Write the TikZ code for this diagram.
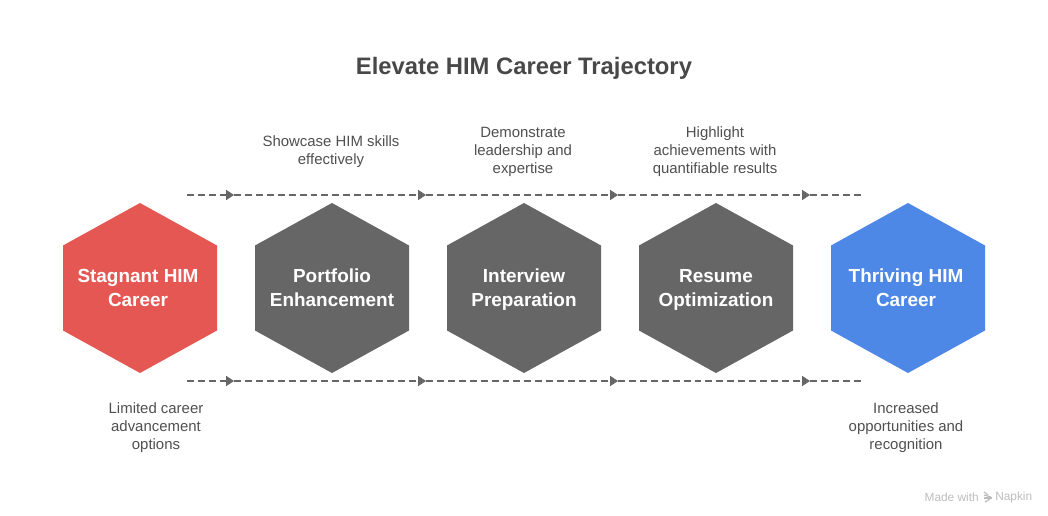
\documentclass[tikz,border=0pt]{standalone}
\usepackage{fontspec}
\setmainfont{Liberation Sans}
\usetikzlibrary{arrows.meta}
\definecolor{redhex}{HTML}{E55753}
\definecolor{greyhex}{HTML}{666666}
\definecolor{bluehex}{HTML}{4E88E7}
\definecolor{inktext}{HTML}{4F4F4F}
\definecolor{inktitle}{HTML}{484848}
\definecolor{inkmark}{HTML}{BDBDBD}
\begin{document}
\begin{tikzpicture}[
  x=0.75pt, y=-0.75pt,
  hexlabel/.style={text=white, align=center, execute at begin node=\strut, execute at end node=\strut,
    font=\fontsize{14.2}{18}\selectfont\bfseries},
  note/.style={text=inktext, align=center, execute at begin node=\strut, execute at end node=\strut,
    font=\fontsize{11.2}{13.5}\selectfont},
  dashline/.style={draw=greyhex, line width=1.5pt, dash pattern=on 5.2pt off 3pt,
    -{Triangle[length=6pt,width=7.5pt,fill=greyhex]}},
  dashend/.style={draw=greyhex, line width=1.5pt, dash pattern=on 5.2pt off 3pt}
]
\useasboundingbox (0,0) rectangle (1048,516);
\node[text=inktitle, font=\fontsize{17.85}{22}\selectfont\bfseries] (title) at (524,68) {Elevate HIM Career Trajectory};
% hexagons
\foreach \name/\cx/\tx/\col/\txt in {
  stagnant/140/138/redhex/{Stagnant HIM\\Career},
  portfolio/332/332/greyhex/{Portfolio\\Enhancement},
  interview/524/524/greyhex/{Interview\\Preparation},
  resume/716/716/greyhex/{Resume\\Optimization},
  thriving/908/906/bluehex/{Thriving HIM\\Career}}{
  \fill[\col] (\cx,203) -- (\cx+77,245.5) -- (\cx+77,330.5) -- (\cx,373)
    -- (\cx-77,330.5) -- (\cx-77,245.5) -- cycle;
  \node[hexlabel] (\name) at (\tx,291.5) {\txt};
}
% dashed tracks
\foreach \row/\y in {top/195, bot/381}{
  \foreach \i/\x in {0/187, 1/234, 2/426, 3/618, 4/810, 5/861}
    \coordinate (\row\i) at (\x,\y);
  \draw[dashline] (\row0) -- (\row1);
  \draw[dashline] (\row1) -- (\row2);
  \draw[dashline] (\row2) -- (\row3);
  \draw[dashline] (\row3) -- (\row4);
  \draw[dashend] (\row4) -- (\row5);
}
% notes
\node[note] (skills) at (331,153) {Showcase HIM skills\\effectively};
\node[note] (leader) at (523,153) {Demonstrate\\leadership and\\expertise};
\node[note] (results) at (715,153) {Highlight\\achievements with\\quantifiable results};
\node[note] (limited) at (156,429) {Limited career\\advancement\\options};
\node[note] (increased) at (906,429) {Increased\\opportunities and\\recognition};
% watermark
\node[text=inkmark, inner sep=0pt, font=\fontsize{8.9}{10}\selectfont, anchor=east] (made) at (979,497) {Made with};
\node[text=inkmark, inner sep=0pt, font=\fontsize{8.9}{10}\selectfont, anchor=west] (napkin) at (995,497) {Napkin};
\foreach \a/\b/\c/\d in {984/492/988/495, 984/495/991/497, 984/498/992/498, 985/502/990/499}
  \draw[inkmark, line width=0.9pt] (\a,\b) -- (\c,\d);
\end{tikzpicture}
\end{document}
